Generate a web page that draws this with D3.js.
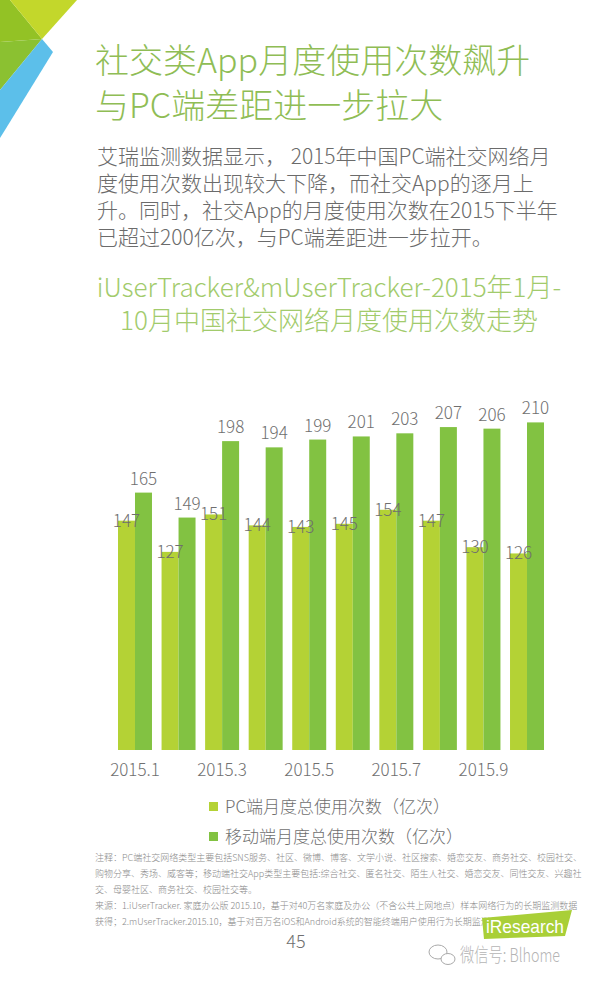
<!DOCTYPE html>
<html lang="zh">
<head>
  <meta charset="UTF-8">
  <title>chart</title>
  <script src="https://cdn.jsdelivr.net/npm/d3@7/dist/d3.min.js"></script>
</head>
<body>
<style>
  * {
    padding: 0;
    margin: 0;
  }

  body {
    background: #fff;
  }

  #app {
    width: 600px;
    height: 984px;
  }

  text {
    font-family: "Noto Sans CJK SC", "Noto Sans", sans-serif;
    font-weight: 300;
  }
</style>

<div id="app"></div>

<script>
  // data
  let months = ["2015.1", "2015.2", "2015.3", "2015.4", "2015.5", "2015.6", "2015.7", "2015.8", "2015.9", "2015.10"];
  let pcValues = [147, 127, 151, 144, 143, 145, 154, 147, 130, 126];
  let mobileValues = [165, 149, 198, 194, 199, 201, 203, 207, 206, 210];
  let tickLabels = ["2015.1", "2015.3", "2015.5", "2015.7", "2015.9"];
  let seriesNames = ["PC端月度总使用次数（亿次）", "移动端月度总使用次数（亿次）"];

  let titleLines = ["社交类App月度使用次数飙升", "与PC端差距进一步拉大"];
  let introLines = [
    "艾瑞监测数据显示， 2015年中国PC端社交网络月",
    "度使用次数出现较大下降，而社交App的逐月上",
    "升。同时，社交App的月度使用次数在2015下半年",
    "已超过200亿次，与PC端差距进一步拉开。"
  ];
  let chartTitleLines = ["iUserTracker&mUserTracker-2015年1月-", "10月中国社交网络月度使用次数走势"];
  let noteLines = [
    "注释：PC端社交网络类型主要包括SNS服务、社区、微博、博客、文学小说、社区搜索、婚恋交友、商务社交、校园社交、",
    "购物分享、秀场、威客等；移动端社交App类型主要包括:综合社交、匿名社交、陌生人社交、婚恋交友、同性交友、兴趣社",
    "交、母婴社区、商务社交、校园社交等。",
    "来源：1.iUserTracker. 家庭办公版 2015.10，基于对40万名家庭及办公（不含公共上网地点）样本网络行为的长期监测数据",
    "获得；2.mUserTracker.2015.10，基于对百万名iOS和Android系统的智能终端用户使用行为长期监测获得。"
  ];

  let $width = 600, $height = 984;
  let pcColor = "#b4d235", mobileColor = "#82c242", labelColor = "#6f6f6f";

  let svg = d3.select("#app").append("svg").attr("width", $width).attr("height", $height)

  // corner decoration
  let deco = svg.append("g")
  deco.append("polygon").attr("points", "0,0 10,0 42,39 0,42").attr("fill", "#93c225")
  deco.append("polygon").attr("points", "10,0 77,0 42,39").attr("fill", "#c3d72b")
  deco.append("polygon").attr("points", "0,42 42,39 0,90").attr("fill", "#8bc131")
  deco.append("polygon").attr("points", "42,39 53,52 5,130 0,138 0,90").attr("fill", "#5cbfea")

  // headline
  svg.append("g").selectAll("text").data(titleLines).enter().append("text")
    .text(d => d)
    .attr("x", 95).attr("y", (d, i) => 73 + i * 45)
    .attr("font-size", "34px").attr("fill", "#8fbd55")

  svg.append("g").selectAll("text").data(introLines).enter().append("text")
    .text(d => d)
    .attr("x", 97).attr("y", (d, i) => 164 + i * 27)
    .attr("font-size", "21px").attr("fill", "#6b6b6b")

  svg.append("g").selectAll("text").data(chartTitleLines).enter().append("text")
    .text(d => d)
    .attr("x", 329).attr("y", (d, i) => 297 + i * 33)
    .attr("text-anchor", "middle")
    .attr("font-size", "26px").attr("fill", "#a2cb6c")

  // chart
  let x0 = d3.scaleBand().domain(months).range([118, 544]).paddingInner(0.22).paddingOuter(0);
  let x1 = d3.scaleBand().domain(["pc", "mobile"]).range([0, x0.bandwidth()]);
  let y = d3.scaleLinear().domain([0, 250]).range([750, 360]);

  let rows = months.map((m, i) => ({month: m, pc: pcValues[i], mobile: mobileValues[i]}));

  let groups = svg.append("g").selectAll("g").data(rows).enter().append("g")
    .attr("transform", d => "translate(" + x0(d.month) + ",0)")

  groups.append("rect")
    .attr("x", x1("pc")).attr("width", x1.bandwidth())
    .attr("y", d => y(d.pc)).attr("height", d => y(0) - y(d.pc))
    .attr("fill", pcColor)

  groups.append("rect")
    .attr("x", x1("mobile")).attr("width", x1.bandwidth())
    .attr("y", d => y(d.mobile)).attr("height", d => y(0) - y(d.mobile))
    .attr("fill", mobileColor)

  groups.append("text")
    .text(d => d.pc)
    .attr("x", x1("pc") + x1.bandwidth() / 2).attr("y", d => y(d.pc) + 6)
    .attr("text-anchor", "middle").attr("font-size", "17px").attr("fill", labelColor)

  groups.append("text")
    .text(d => d.mobile)
    .attr("x", x1("mobile") + x1.bandwidth() / 2).attr("y", d => y(d.mobile) - 8)
    .attr("text-anchor", "middle").attr("font-size", "17px").attr("fill", labelColor)

  let xAxis = svg.append("g").attr("transform", "translate(0,750)")
    .call(d3.axisBottom(x0).tickValues(tickLabels).tickSize(0).tickPadding(14))
  xAxis.select(".domain").remove()
  xAxis.selectAll("text")
    .attr("font-size", "17px").attr("fill", "#707070")
    .style("font-family", '"Noto Sans CJK SC", sans-serif')

  // legend
  let legend = svg.append("g").selectAll("g").data(seriesNames).enter().append("g")
    .attr("transform", (d, i) => "translate(209," + (802 + i * 30) + ")")
  legend.append("rect").attr("width", 9).attr("height", 9)
    .attr("fill", (d, i) => i === 0 ? pcColor : mobileColor)
  legend.append("text").text(d => d)
    .attr("x", 16).attr("y", 11)
    .attr("font-size", "17px").attr("fill", "#6f6f6f")

  // notes
  svg.append("g").selectAll("text").data(noteLines).enter().append("text")
    .text(d => d)
    .attr("x", 95).attr("y", (d, i) => 861 + i * 16)
    .attr("font-size", "9px").attr("fill", "#8a8a8a")

  svg.append("text").text("45")
    .attr("x", 296).attr("y", 948).attr("text-anchor", "middle")
    .attr("font-size", "18px").attr("fill", "#707070")

  // logo
  svg.append("polygon").attr("points", "482,918 572,910 565,936 484,939").attr("fill", "#a9cf38")
  svg.append("text").text("iResearch")
    .attr("x", 486).attr("y", 933)
    .attr("textLength", 78).attr("lengthAdjust", "spacingAndGlyphs")
    .attr("font-size", "19px").attr("fill", "#fff")
    .style("font-family", '"Liberation Sans", Arial, sans-serif')

  // wechat mark
  let wx = svg.append("g").attr("fill", "#fff").attr("stroke", "#aaa").attr("stroke-width", 1)
  wx.append("ellipse").attr("cx", 438).attr("cy", 952).attr("rx", 9).attr("ry", 7)
  wx.append("ellipse").attr("cx", 448).attr("cy", 959).attr("rx", 7).attr("ry", 5.5)
  svg.append("text").text("微信号: Blhome")
    .attr("x", 460).attr("y", 962)
    .attr("textLength", 100).attr("lengthAdjust", "spacingAndGlyphs")
    .attr("font-size", "19px").attr("fill", "#b5b5b5")
</script>
</body>
</html>
